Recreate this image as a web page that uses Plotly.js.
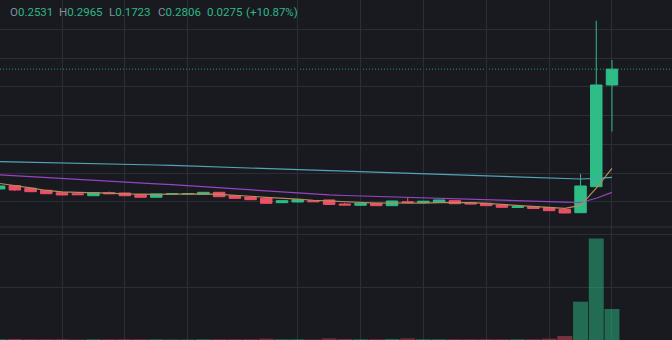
<!DOCTYPE html>
<html>
<head>
<meta charset="utf-8">
<script src="https://cdn.plot.ly/plotly-3.0.1.min.js"></script>
<style>
html,body{margin:0;padding:0;background:#181a20;}
#chart{width:672px;height:340px;}
</style>
</head>
<body>
<div id="chart"></div>
<script>
// ---- data ----
var candleIndex = [];
for (var k = 0; k < 40; k++) candleIndex.push(k);

var openP  = [0.0726,0.0783,0.0738,0.0703,0.0661,0.0644,0.0609,0.0661,0.0656,0.0627,
              0.0582,0.0636,0.0640,0.0634,0.0668,0.0609,0.0587,0.0564,0.0488,0.0500,
              0.0523,0.0535,0.0465,0.0443,0.0477,0.0436,0.0505,0.0491,0.0495,0.0523,
              0.0488,0.0477,0.0448,0.0405,0.0418,0.0405,0.0373,0.0314,0.0766,0.2531];
var highP  = [0.0790,0.0790,0.0745,0.0710,0.0668,0.0650,0.0666,0.0680,0.0662,0.0632,
              0.0645,0.0648,0.0650,0.0673,0.0674,0.0615,0.0592,0.0570,0.0528,0.0545,
              0.0530,0.0540,0.0485,0.0482,0.0482,0.0522,0.0587,0.0519,0.0540,0.0528,
              0.0493,0.0482,0.0453,0.0422,0.0423,0.0410,0.0378,0.0986,0.3648,0.2965];
var lowP   = [0.0715,0.0691,0.0672,0.0638,0.0617,0.0622,0.0603,0.0640,0.0604,0.0577,
              0.0578,0.0630,0.0635,0.0630,0.0586,0.0559,0.0535,0.0472,0.0483,0.0496,
              0.0500,0.0452,0.0440,0.0438,0.0431,0.0432,0.0484,0.0487,0.0491,0.0466,
              0.0460,0.0431,0.0404,0.0401,0.0383,0.0345,0.0305,0.0310,0.0762,0.1723];
var closeP = [0.0778,0.0708,0.0679,0.0644,0.0622,0.0627,0.0661,0.0644,0.0609,0.0582,
              0.0639,0.0642,0.0645,0.0668,0.0592,0.0564,0.0540,0.0477,0.0523,0.0540,
              0.0505,0.0457,0.0448,0.0477,0.0436,0.0517,0.0488,0.0514,0.0535,0.0470,
              0.0465,0.0436,0.0408,0.0418,0.0387,0.0349,0.0309,0.0778,0.2531,0.2806];
var volume = [0.3,0.4,0.3,0.3,0.3,0.2,0.3,0.3,0.3,0.3,
              0.3,0.2,0.2,0.3,0.3,0.3,0.3,0.5,0.3,0.3,
              0.2,0.6,0.4,0.3,0.3,0.4,0.6,0.3,0.3,0.3,
              0.3,0.3,0.3,0.3,0.3,0.5,1.5,14.6,38.7,11.8];
var ma7  = [0.0823,0.0790,0.0745,0.0700,0.0675,0.0668,0.0665,0.0655,0.0640,0.0630,
            0.0632,0.0637,0.0640,0.0641,0.0632,0.0620,0.0600,0.0580,0.0570,0.0550,
            0.0530,0.0515,0.0500,0.0490,0.0480,0.0482,0.0475,0.0480,0.0490,0.0490,
            0.0488,0.0475,0.0460,0.0435,0.0420,0.0405,0.0390,0.0441,0.0740,0.1083];
var ma25 = [0.0972,0.0955,0.0939,0.0924,0.0908,0.0891,0.0875,0.0859,0.0842,0.0826,
            0.0813,0.0800,0.0781,0.0764,0.0747,0.0727,0.0708,0.0691,0.0672,0.0655,
            0.0639,0.0622,0.0613,0.0604,0.0595,0.0587,0.0578,0.0569,0.0563,0.0554,
            0.0549,0.0542,0.0533,0.0524,0.0516,0.0507,0.0498,0.0491,0.0564,0.0667];
var ma99 = [0.1201,0.1196,0.1193,0.1188,0.1182,0.1177,0.1172,0.1165,0.1160,0.1151,
            0.1142,0.1134,0.1125,0.1115,0.1106,0.1095,0.1085,0.1075,0.1066,0.1056,
            0.1047,0.1040,0.1031,0.1023,0.1014,0.1005,0.0997,0.0986,0.0979,0.0970,
            0.0964,0.0957,0.0948,0.0939,0.0931,0.0922,0.0911,0.0899,0.0911,0.0929];
var timeGridTicks  = [4,8,12,19,23,27,31,35,39];
var priceGridTicks = [0.05,0.10,0.15,0.20,0.25,0.30,0.35];
var volGridTicks   = [20,40];
var lastPrice = 0.2806;
var legendLabels = ["O","H","L","C","",""];
var legendValues = ["0.2531","0.2965","0.1723","0.2806","0.0275","(+10.87%)"];
var legendX      = [9, 58, 108, 157, 206, 245];

// ---- styles ----
var UP = '#2ebd87', DOWN = '#ee4f66';
var GRID = '#2b2e35', BG = '#181a20';

var volColors = closeP.map(function(c, i){
  return c >= openP[i] ? 'rgba(46,189,135,0.5)' : 'rgba(238,79,102,0.45)';
});

var traces = [
  {type:'scatter', mode:'lines', x:candleIndex, y:ma99, line:{color:'#52a5b5', width:1.2}, hoverinfo:'skip', xaxis:'x', yaxis:'y'},
  {type:'scatter', mode:'lines', x:candleIndex, y:ma25, line:{color:'#9644c2', width:1.2}, hoverinfo:'skip', xaxis:'x', yaxis:'y'},
  {type:'scatter', mode:'lines', x:candleIndex, y:ma7,  line:{color:'#b48c5c', width:1.2}, hoverinfo:'skip', xaxis:'x', yaxis:'y'},
  {type:'candlestick', x:candleIndex, open:openP, high:highP, low:lowP, close:closeP,
   increasing:{line:{color:UP, width:1}, fillcolor:UP},
   decreasing:{line:{color:DOWN, width:1}, fillcolor:DOWN},
   whiskerwidth:0, hoverinfo:'skip', xaxis:'x', yaxis:'y'},
  {type:'bar', x:candleIndex, y:volume, marker:{color:volColors, line:{width:0}}, hoverinfo:'skip', xaxis:'x', yaxis:'y2'}
];

var annotations = legendValues.map(function(v, i){
  var t = (legendLabels[i] ? '<span style="color:#848e9c">'+legendLabels[i]+'</span>' : '') + v;
  return {xref:'paper', yref:'paper', x:legendX[i]/672, y:1-11.7/340, xanchor:'left', yanchor:'middle',
          showarrow:false, text:t, borderpad:0, font:{family:'Roboto, sans-serif', size:11.5, color:'#2fb887'}};
});

var layout = {
  width:672, height:340,
  margin:{l:0, r:0, t:0, b:0, pad:0},
  paper_bgcolor:BG, plot_bgcolor:BG,
  showlegend:false,
  boxgap:0.27, boxgroupgap:0,
  bargap:0.05,
  xaxis:{range:[0.0547, 42.82], tickmode:'array', tickvals:timeGridTicks, showticklabels:false,
         showgrid:true, gridcolor:GRID, gridwidth:1, zeroline:false, showline:false, ticks:'',
         rangeslider:{visible:false}, fixedrange:true},
  yaxis:{domain:[0.3324, 1], range:[0.0066, 0.4007], tickmode:'array', tickvals:priceGridTicks,
         showticklabels:false, showgrid:true, gridcolor:GRID, gridwidth:1, zeroline:false, showline:false, ticks:'', fixedrange:true},
  yaxis2:{domain:[0, 0.3324], range:[0, 43.05], tickmode:'array', tickvals:volGridTicks,
         showticklabels:false, showgrid:true, gridcolor:GRID, gridwidth:1, zeroline:false, showline:false, ticks:'', fixedrange:true},
  shapes:[
    {type:'line', xref:'paper', yref:'paper', x0:0, x1:1, y0:0.3324, y1:0.3324, line:{color:'#30333b', width:1}},
    {type:'line', xref:'paper', yref:'y', x0:0, x1:1, y0:lastPrice, y1:lastPrice, line:{color:'rgba(46,189,135,0.75)', width:1, dash:'1px,2px'}, layer:'below'}
  ],
  annotations:annotations
};

Plotly.newPlot('chart', traces, layout, {displayModeBar:false, staticPlot:true});
</script>
</body>
</html>
